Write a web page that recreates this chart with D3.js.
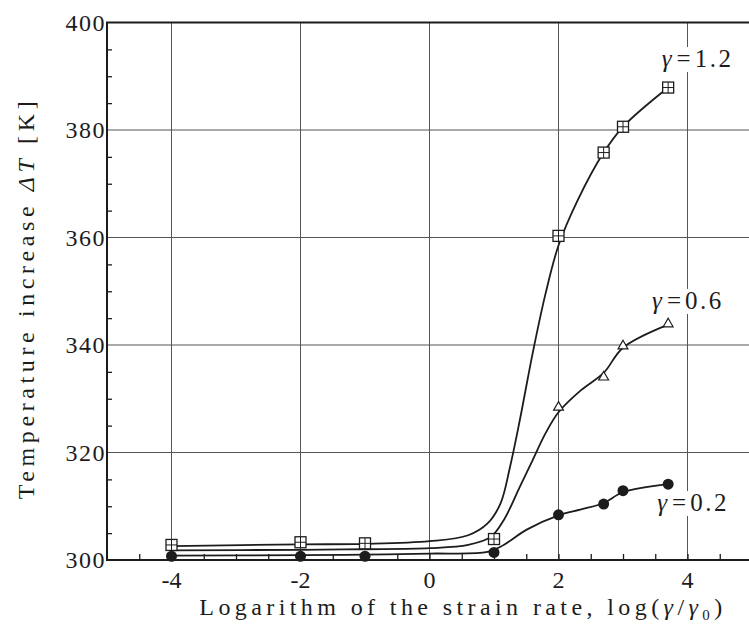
<!DOCTYPE html>
<html>
<head>
<meta charset="utf-8">
<script src="https://cdn.jsdelivr.net/npm/d3@7"></script>
<style>
  body { margin: 0; background: #fff; }
</style>
</head>
<body>
<div id="chart"></div>
<script>
// tick values
const xTicks = [-4, -2, 0, 2, 4];
const yTicks = [300, 320, 340, 360, 380, 400];

// measured points (markers)
const xMarks12 = [-4, -2, -1, 1, 2, 2.7, 3, 3.7];
const yMarks12 = [302.8, 303.3, 303.1, 303.9, 360.3, 375.8, 380.6, 387.9];
const xMarks06 = [2, 2.7, 3, 3.7];
const yMarks06 = [328.6, 334.2, 340, 344.1];
const xMarks02 = [-4, -2, -1, 1, 2, 2.7, 3, 3.7];
const yMarks02 = [300.7, 300.7, 300.7, 301.4, 308.4, 310.4, 312.9, 314.1];

// fitted curves
const xCurve12 = [-4, -2, -1, 0, 0.6, 0.9, 1.1, 1.25, 1.4, 1.6, 1.8, 2.0, 2.3, 2.7, 3.0, 3.7];
const yCurve12 = [302.6, 302.9, 303.0, 303.5, 304.6, 306.8, 310.5, 317.4, 326, 338.5, 349.6, 358.5, 367, 375.8, 380.6, 387.9];
const xCurve06 = [-4, -2, -1, 0, 0.6, 0.95, 1.15, 1.4, 1.6, 1.8, 2.0, 2.35, 2.7, 3.0, 3.7];
const yCurve06 = [301.8, 301.9, 302.0, 302.2, 302.8, 304.3, 307.4, 313.6, 318.6, 323.6, 327.5, 331.6, 334.8, 339.5, 343.8];
const xCurve02 = [-4, -2, -1, 0, 0.9, 1.15, 1.5, 2.0, 2.35, 2.7, 3.0, 3.7];
const yCurve02 = [300.8, 300.9, 301.0, 301.2, 301.5, 302.8, 305.6, 308.3, 309.4, 310.6, 312.6, 314.1];

const seriesLabels = ["1.2", "0.6", "0.2"];

const w = 749;
const h = 628;
const ink = "#1c1c1c";

const svg = d3.select("#chart")
    .append("svg")
    .attr("width", w)
    .attr("height", h)
    .style("font-family", "'Liberation Serif', serif")
    .attr("fill", ink);

const x = d3.scaleLinear().domain([-5, 5]).range([107, 752]);
const y = d3.scaleLinear().domain([300, 400]).range([560, 22.5]);

// grid
const grid = svg.append("g").attr("stroke", "#555").attr("stroke-width", 1);
xTicks.forEach(t => {
    grid.append("line")
        .attr("x1", x(t)).attr("x2", x(t))
        .attr("y1", y(300)).attr("y2", y(400));
});
yTicks.slice(1, -1).forEach(t => {
    grid.append("line")
        .attr("x1", x(-5)).attr("x2", w)
        .attr("y1", y(t)).attr("y2", y(t));
});

// axes (ticks point inward)
const xAxis = d3.axisBottom(x)
    .tickValues(d3.range(-4.5, 5, 0.5))
    .tickSize(-6)
    .tickFormat("");
svg.append("g")
    .attr("transform", `translate(0,${y(300)})`)
    .call(xAxis)
    .call(g => g.select(".domain").remove())
    .call(g => g.selectAll("line").attr("stroke", ink).attr("stroke-width", 1.3));

const yAxis = d3.axisLeft(y)
    .tickValues(d3.range(305, 400, 5).filter(v => v % 20 !== 0))
    .tickSize(-5)
    .tickFormat("");
svg.append("g")
    .attr("transform", `translate(${x(-5)},0)`)
    .call(yAxis)
    .call(g => g.select(".domain").remove())
    .call(g => g.selectAll("line").attr("stroke", ink).attr("stroke-width", 1.3));

// frame: left, bottom, top
svg.append("path")
    .attr("d", `M${w},${y(400)}H${x(-5)}V${y(300)}H${w}`)
    .attr("fill", "none")
    .attr("stroke", ink)
    .attr("stroke-width", 2);

// tick labels
svg.append("g").selectAll("text")
    .data(xTicks)
    .join("text")
    .attr("x", d => x(d))
    .attr("y", 588)
    .attr("text-anchor", "middle")
    .style("font-size", "24px")
    .text(d => d);

svg.append("g").selectAll("text")
    .data(yTicks)
    .join("text")
    .attr("x", 106)
    .attr("y", d => y(d) + 8)
    .attr("text-anchor", "end")
    .style("font-size", "24px")
    .style("letter-spacing", "1.5px")
    .text(d => d);

// axis titles
const xTitle = svg.append("text")
    .attr("x", 463)
    .attr("y", 615)
    .attr("text-anchor", "middle")
    .style("font-size", "24px")
    .style("letter-spacing", "4.4px");
xTitle.append("tspan").text("Logarithm of the strain rate, log(");
xTitle.append("tspan").style("font-style", "italic").text("γ");
xTitle.append("tspan").text("/");
xTitle.append("tspan").style("font-style", "italic").text("γ");
xTitle.append("tspan").style("font-size", "15px").attr("dy", 5).text("0");
xTitle.append("tspan").attr("dy", -5).text(")");

const yTitle = svg.append("text")
    .attr("transform", "translate(34,298) rotate(-90)")
    .attr("text-anchor", "middle")
    .style("font-size", "24px")
    .style("letter-spacing", "4.6px");
yTitle.append("tspan").text("Temperature increase ");
yTitle.append("tspan").style("font-style", "italic").text("ΔT");
yTitle.append("tspan").text(" [K]");

// curves
const line = d3.line()
    .x(d => x(d[0]))
    .y(d => y(d[1]))
    .curve(d3.curveCatmullRom.alpha(0.5));

[[xCurve12, yCurve12], [xCurve06, yCurve06], [xCurve02, yCurve02]].forEach(([xs, ys]) => {
    svg.append("path")
        .datum(xs.map((v, i) => [v, ys[i]]))
        .attr("d", line)
        .attr("fill", "none")
        .attr("stroke", ink)
        .attr("stroke-width", 1.8);
});

// markers
const tri = d3.symbol().type(d3.symbolTriangle).size(42);
svg.append("g").selectAll("path")
    .data(xMarks06.map((v, i) => [v, yMarks06[i]]))
    .join("path")
    .attr("transform", d => `translate(${x(d[0])},${y(d[1]) + 1})`)
    .attr("d", tri)
    .attr("fill", "#fff")
    .attr("stroke", ink)
    .attr("stroke-width", 1.2);

const sq = svg.append("g").selectAll("g")
    .data(xMarks12.map((v, i) => [v, yMarks12[i]]))
    .join("g")
    .attr("transform", d => `translate(${x(d[0])},${y(d[1])})`);
sq.append("rect")
    .attr("x", -5.5).attr("y", -5.5)
    .attr("width", 11).attr("height", 11)
    .attr("fill", "#fff")
    .attr("stroke", ink)
    .attr("stroke-width", 1.3);
sq.append("path")
    .attr("d", "M-5.5,0H5.5M0,-5.5V5.5")
    .attr("stroke", ink)
    .attr("stroke-width", 1);

svg.append("g").selectAll("circle")
    .data(xMarks02.map((v, i) => [v, yMarks02[i]]))
    .join("circle")
    .attr("cx", d => x(d[0]))
    .attr("cy", d => y(d[1]))
    .attr("r", 5.5)
    .attr("fill", ink);

// series labels with white patch behind
const labelPos = [[3.6, 393.2], [3.45, 348.2], [3.53, 310.6]];
seriesLabels.forEach((s, i) => {
    const g = svg.append("g");
    const t = g.append("text")
        .attr("x", x(labelPos[i][0]))
        .attr("y", y(labelPos[i][1]) + 8)
        .style("font-size", "25px");
    t.append("tspan").style("font-style", "italic").text("γ");
    t.append("tspan").attr("dx", 5).text("=");
    t.append("tspan").attr("dx", 4).style("letter-spacing", "2.5px").text(s);
    const b = t.node().getBBox();
    g.insert("rect", "text")
        .attr("x", b.x - 2).attr("y", b.y + 2)
        .attr("width", b.width + 4).attr("height", b.height - 2)
        .attr("fill", "#fff");
});
</script>
</body>
</html>
